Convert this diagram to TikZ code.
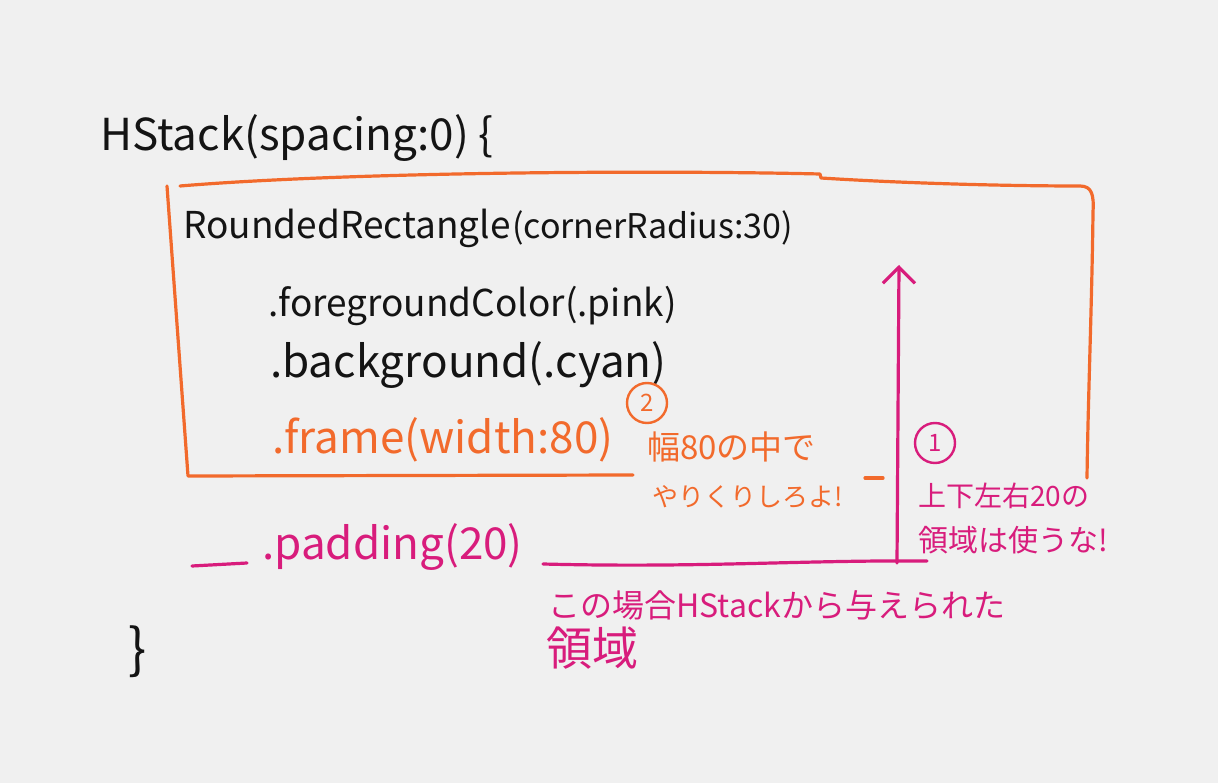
\documentclass[tikz,border=0pt]{standalone}
\usepackage{fontspec}
\newfontfamily\jp{Noto Sans CJK JP}
\usetikzlibrary{arrows.meta}
\definecolor{bg}{HTML}{F0F0F0}
\definecolor{inkblack}{HTML}{141414}
\definecolor{orangeink}{HTML}{F26A2C}
\definecolor{pinkink}{HTML}{D81C7C}
\tikzset{
  txt/.style={anchor=west, inner sep=0pt, font=\jp},
  blk/.style={txt, text=inkblack},
  org/.style={txt, text=orangeink},
  pnk/.style={txt, text=pinkink},
  oline/.style={draw=orangeink, line width=3.2pt, line cap=round, line join=round},
  pline/.style={draw=pinkink, line width=3.2pt, line cap=round, line join=round},
  numcirc/.style={circle, inner sep=0pt, minimum size=40pt, line width=2.4pt, font=\jp\fontsize{24}{26}\selectfont},
}
\newcommand{\fsz}[1]{\fontsize{#1}{#1}\selectfont}
\begin{document}
\begin{tikzpicture}[x=1pt,y=-1pt]
\fill[bg] (0,0) rectangle (1218,783);
\useasboundingbox (0,0) rectangle (1218,783);

% black code text
\node[blk, font=\jp\fsz{44}] (hstack) at (100,138) {HStack(spacing:0) \{};
\node[blk] (rrect) at (183,228) {{\fsz{37}RoundedRectangle}\,{\fsz{34}(cornerRadius:30)}};
\node[blk, font=\jp\fsz{37}] (fg) at (268,306) {.foregroundColor(.pink)};
\node[blk, font=\jp\fsz{44}] (bgmod) at (270,365) {.background(.cyan)};
\node[org, font=\jp\fsz{44}] (frame) at (272,440) {.frame(width:80)};
\node[pnk, font=\jp\fsz{44}] (pad) at (262,547) {.padding(20)};
\node[blk, font=\jp\fsz{54}] (close) at (128,652) {\}};

% orange box (frame width 80)
\draw[oline] (167,186) -- (188,476) -- (633,475);
\draw[oline] (180,186) .. controls (350,172) and (650,170) .. (820,174)
  -- (821,178) .. controls (900,183) and (1000,186) .. (1080,186)
  .. controls (1092,186) and (1094,195) .. (1093,212)
  .. controls (1092,300) and (1088,400) .. (1087,478);
\coordinate (od1) at (865,478);
\coordinate (od2) at (883,478);
\draw[oline] (od1) -- (od2);

% orange note 2
\node[numcirc, draw=orangeink, text=orangeink] (c2) at (647,403) {2};
\node[org, font=\jp\fsz{33}] (n2a) at (647,447) {幅80の中で};
\node[org, font=\jp\fsz{26}] (n2b) at (652,497) {やりくりしろよ!};

% pink padding lines and arrow
\coordinate (pl1) at (192,566);
\coordinate (pl2) at (247,563);
\draw[pline] (pl1) -- (pl2);
\coordinate (pr1) at (543,564);
\coordinate (pr2) at (927,561);
\draw[pline] (pr1) .. controls (700,568) and (800,560) .. (pr2);
\coordinate (abot) at (897,563);
\coordinate (atop) at (899,265);
\draw[pline, -{Straight Barb[length=16pt,width=32pt]}] (abot) -- (atop);

% pink note 1
\node[numcirc, draw=pinkink, text=pinkink] (c1) at (935,443) {1};
\node[pnk, font=\jp\fsz{28}] (n1a) at (918,496) {上下左右20の};
\node[pnk, font=\jp\fsz{30}] (n1b) at (918,540) {領域は使うな!};

% pink caption
\node[pnk, font=\jp\fsz{32}] (cap1) at (548,605) {この場合HStackから与えられた};
\node[pnk, font=\jp\fsz{46}] (cap2) at (546,648) {領域};
\end{tikzpicture}
\end{document}
